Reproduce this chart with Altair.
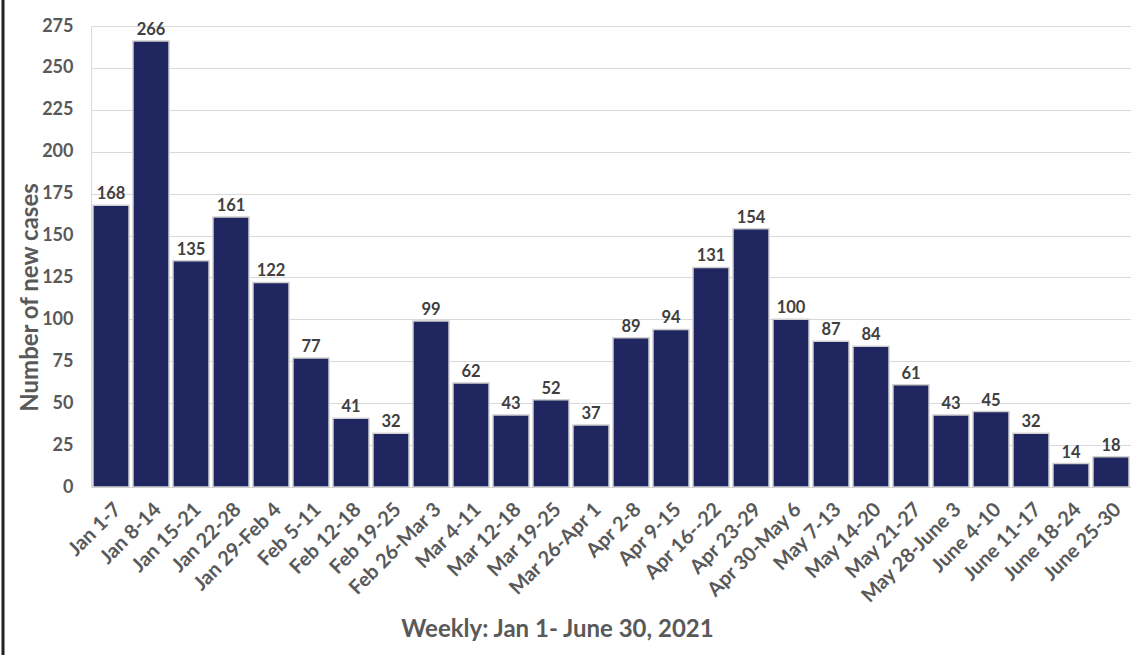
import altair as alt
import pandas as pd

weeks = ["Jan 1-7", "Jan 8-14", "Jan 15-21", "Jan 22-28", "Jan 29-Feb 4", "Feb 5-11",
         "Feb 12-18", "Feb 19-25", "Feb 26-Mar 3", "Mar 4-11", "Mar 12-18", "Mar 19-25",
         "Mar 26-Apr 1", "Apr 2-8", "Apr 9-15", "Apr 16--22", "Apr 23-29", "Apr 30-May 6",
         "May 7-13", "May 14-20", "May 21-27", "May 28-June 3", "June 4-10", "June 11-17",
         "June 18-24", "June 25-30"]
cases = [168, 266, 135, 161, 122, 77, 41, 32, 99, 62, 43, 52, 37, 89, 94, 131, 154, 100,
         87, 84, 61, 43, 45, 32, 14, 18]
y_ticks = [0, 25, 50, 75, 100, 125, 150, 175, 200, 225, 250, 275]

df = pd.DataFrame({"week": weeks, "cases": cases})

FONT = "Lato"
GRAY = "#595959"

x = alt.X("week:N", sort=weeks, title="Weekly: Jan 1- June 30, 2021",
          scale=alt.Scale(paddingInner=0.1, paddingOuter=0.05),
          axis=alt.Axis(labelAngle=-45, labelFont=FONT, labelFontSize=20, labelFontWeight="bold",
                        labelColor=GRAY, ticks=False, domain=False, labelPadding=12,
                        titleFont=FONT, titleFontSize=24, titleFontWeight="bold",
                        titleColor=GRAY, titleX=466, titleY=142,
                        titleAlign="center", titleBaseline="middle"))
y = alt.Y("cases:Q", title="Number of new cases",
          scale=alt.Scale(domain=[0, 275], nice=False),
          axis=alt.Axis(values=y_ticks, labelFont=FONT, labelFontSize=18, labelFontWeight="bold",
                        labelColor=GRAY, ticks=False, domain=True, domainColor="#d9d9d9",
                        gridColor="#d9d9d9", labelPadding=18,
                        titleFont=FONT, titleFontSize=24, titleFontWeight="bold",
                        titleColor=GRAY, titleX=-61, titleY=271,
                        titleAlign="center", titleBaseline="middle", titleAngle=270))

bars = alt.Chart(df).mark_bar(color="#1f2660", stroke="#d0d0d0", strokeWidth=1.5).encode(x=x, y=y)
labels = alt.Chart(df).mark_text(dy=-11, font=FONT, fontSize=16.5, fontWeight="bold",
                                 color="#404040").encode(
    x=alt.X("week:N", sort=weeks), y="cases:Q", text="cases:Q")

frame = alt.Chart(df.head(1)).mark_rule(color="#222222", strokeWidth=3).encode(
    x=alt.value(-88), y=alt.value(-30), y2=alt.value(640))

chart = alt.layer(bars, labels, frame).properties(
    width=1040, height=461,
    padding={"left": 91, "top": 26, "right": 0, "bottom": 168},
    autosize=alt.AutoSizeParams(type="none"),
    background="white",
).configure_view(stroke=None)

chart.save("out.html", embed_options={"renderer": "svg", "actions": False})
